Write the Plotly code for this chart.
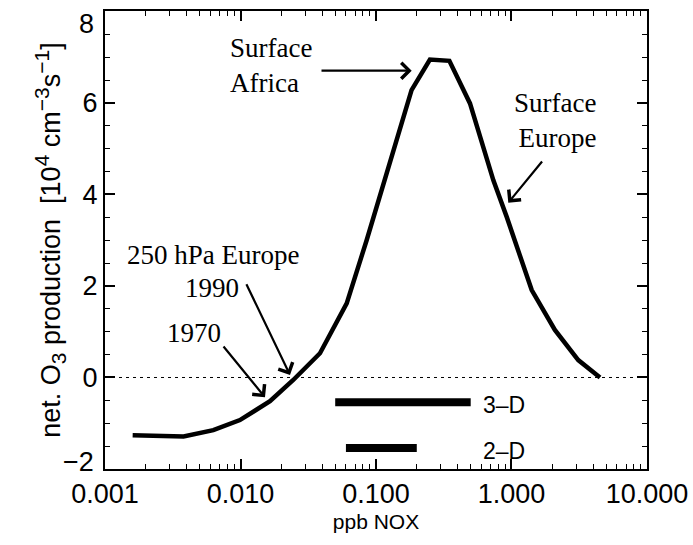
import math
import plotly.graph_objects as go

# Curve: ppb NOx vs net O3 production [1e4 cm^-3 s^-1]
nox = [0.0016, 0.0038, 0.0063, 0.0099, 0.0165, 0.0244, 0.0386, 0.0608, 0.0853,
       0.183, 0.25, 0.348, 0.494, 0.735, 0.922, 1.41, 2.09, 3.11, 4.5]
o3_prod = [-1.26, -1.29, -1.15, -0.93, -0.52, -0.06, 0.53, 1.62, 3.0,
           6.28, 6.95, 6.92, 5.99, 4.31, 3.51, 1.91, 1.04, 0.38, 0.0]

# Range bars (3-D and 2-D models)
bar_names = ["3–D", "2–D"]
bar_lo = [0.05, 0.06]
bar_hi = [0.5, 0.2]
bar_y = [-0.54, -1.54]

xtick_vals = [0.001, 0.01, 0.1, 1, 10]
xtick_text = ["0.001", "0.010", "0.100", "1.000", "10.000"]
ytick_vals = [-2, 0, 2, 4, 6, 8]
ytick_text = ["", "0", "2", "4", "6", ""]   # end labels "8" and "−2" placed inside the frame edges

fig = go.Figure()

# zero reference line
fig.add_trace(go.Scatter(x=[0.001, 10], y=[0, 0], mode="lines",
                         line=dict(color="black", width=1, dash="3px,4px"),
                         hoverinfo="skip", showlegend=False))

fig.add_trace(go.Scatter(x=nox, y=o3_prod, mode="lines",
                         line=dict(color="black", width=4.5),
                         showlegend=False))

for name, lo, hi, yv in zip(bar_names, bar_lo, bar_hi, bar_y):
    fig.add_trace(go.Scatter(x=[lo, hi], y=[yv, yv], mode="lines",
                             line=dict(color="black", width=8),
                             showlegend=False))

# invisible trace for mirrored (top / right) axes with minor ticks
fig.add_trace(go.Scatter(x=[0.001], y=[0], xaxis="x2", yaxis="y2", mode="markers",
                         marker=dict(opacity=0), hoverinfo="skip", showlegend=False))

ser = dict(family="Liberation Serif", size=27, color="black")
san = dict(family="Liberation Sans", size=23, color="black")
tickf = dict(family="Liberation Sans", size=27, color="black")

ann = []
for name, hi, yv in zip(bar_names, bar_hi, bar_y):
    ann.append(dict(x=math.log10(0.6), y=yv - 0.07, xref="x", yref="y", text=name,
                    showarrow=False, xanchor="left", yanchor="middle", font=san))

X0, X1, Y0, Y1 = 105, 647, 469, 11


def px(xp, yp):
    return dict(x=(xp - X0) / (X1 - X0), y=(Y0 - yp) / (Y0 - Y1),
                xref="x domain", yref="y domain")


# end y tick labels
ann.append(dict(**px(96, 24), text=str(ytick_vals[-1]), showarrow=False,
                xanchor="right", yanchor="middle", font=tickf))
ann.append(dict(**px(96, 462), text="−" + str(abs(ytick_vals[0])), showarrow=False,
                xanchor="right", yanchor="middle", font=tickf))

ann.append(dict(**px(228, 65), text="Surface<br>Africa", showarrow=False,
                xanchor="left", yanchor="middle", align="left", font=ser))
ann.append(dict(**px(598, 120), text="Surface<br>Europe", showarrow=False,
                xanchor="right", yanchor="middle", align="right", font=ser))
ann.append(dict(**px(213, 255), text="250 hPa Europe", showarrow=False,
                xanchor="center", yanchor="middle", font=ser))
ann.append(dict(**px(212, 288), text="1990", showarrow=False,
                xanchor="center", yanchor="middle", font=ser))
ann.append(dict(**px(194, 333), text="1970", showarrow=False,
                xanchor="center", yanchor="middle", font=ser))


def arrow(x0, y0, x1, y1):
    a = px(x1, y1)
    t = px(x0, y0)
    return dict(x=a["x"], y=a["y"], xref="x domain", yref="y domain",
                ax=t["x"], ay=t["y"], axref="x domain", ayref="y domain",
                text="", showarrow=True, arrowhead=4, arrowsize=1.4,
                arrowwidth=2.2, arrowcolor="black")


ann.append(arrow(320, 70.7, 411.7, 70.7))
ann.append(arrow(543.3, 160, 508.3, 202.7))
ann.append(arrow(245.7, 282.7, 290, 375))
ann.append(arrow(222.3, 345, 265, 397.3))

minor_x = [m * 10 ** e for e in range(-3, 1) for m in range(2, 10)]

sp = '<span style="font-size:21px">{}</span>'
ytitle = ("net. O<sub>" + sp.format("3") + "</sub> production  [10<sup>" + sp.format("4")
          + "</sup> cm<sup>" + sp.format("−3") + "</sup>s<sup>" + sp.format("−1") + "</sup>]")

fig.update_layout(
    width=693, height=545,
    margin=dict(l=105, r=46, t=11, b=76, autoexpand=False),
    paper_bgcolor="white", plot_bgcolor="white",
    annotations=ann,
    showlegend=False,
    xaxis=dict(
        type="log", range=[-3, 1.0001], automargin=False,
        tickvals=xtick_vals, ticktext=xtick_text, ticklabeloverflow="allow",
        ticks="inside", ticklen=10, tickwidth=1.5, tickcolor="black",
        minor=dict(ticks="inside", ticklen=5, tickcolor="black", tickwidth=1.2,
                   tickvals=minor_x),
        showline=True, linecolor="black", linewidth=2, mirror=True,
        showgrid=False, zeroline=False,
        tickfont=tickf,
        title=dict(text="ppb NOX",
                   font=dict(family="Liberation Sans", size=21, color="black"),
                   standoff=6),
    ),
    yaxis=dict(
        range=[-2, 8.01], automargin=False, tickvals=ytick_vals, ticktext=ytick_text,
        ticklabeloverflow="allow",
        ticks="inside", ticklen=10, tickwidth=1.5, tickcolor="black",
        minor=dict(ticks="inside", ticklen=5, dtick=0.5, tick0=0,
                   tickcolor="black", tickwidth=1.2),
        showline=True, linecolor="black", linewidth=2, mirror=True,
        showgrid=False, zeroline=False,
        tickfont=tickf,
        title=dict(text=ytitle,
                   font=dict(family="Liberation Sans", size=27, color="black"),
                   standoff=14),
    ),
    xaxis2=dict(
        type="log", range=[-3, 1.0001], overlaying="x", side="top", anchor="y2",
        tickvals=xtick_vals, showticklabels=False,
        ticks="inside", ticklen=10, tickwidth=1.5, tickcolor="black",
        minor=dict(ticks="inside", ticklen=5, tickcolor="black", tickwidth=1.2,
                   tickvals=minor_x),
        showline=False, showgrid=False, zeroline=False, automargin=False,
    ),
    yaxis2=dict(
        range=[-2, 8.01], overlaying="y", side="right", anchor="x2",
        tickvals=ytick_vals, showticklabels=False,
        ticks="inside", ticklen=10, tickwidth=1.5, tickcolor="black",
        minor=dict(ticks="inside", ticklen=5, dtick=0.5, tick0=0,
                   tickcolor="black", tickwidth=1.2),
        showline=False, showgrid=False, zeroline=False, automargin=False,
    ),
)

fig.write_html("out.html", config={"displayModeBar": False},
               post_script="document.body.style.margin='0';")
